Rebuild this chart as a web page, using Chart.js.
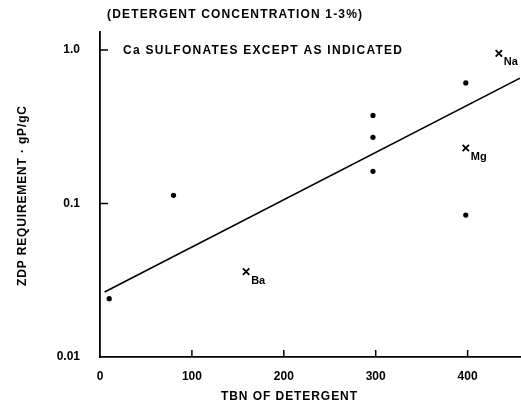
<!DOCTYPE html>
<html>
<head>
<meta charset="utf-8">
<script src="https://cdn.jsdelivr.net/npm/chart.js@4/dist/chart.umd.min.js"></script>
<style>
html,body{margin:0;padding:0;background:#fff;}
canvas{display:block;}
</style>
</head>
<body>
<canvas id="c" width="521" height="408"></canvas>
<script>
// ---- data ----
const dotTBN = [10, 80, 297, 297, 297, 398, 398];
const dotZDP = [0.024, 0.113, 0.375, 0.27, 0.162, 0.61, 0.084];
const markerTBN = [434, 398, 159];
const markerZDP = [0.95, 0.23, 0.036];
const markerLabels = ['Na', 'Mg', 'Ba'];
const fitTBN = [5, 457];
const fitZDP = [0.0265, 0.655];
const xTicks = [0, 100, 200, 300, 400];
const yTicks = [0.01, 0.1, 1.0];
const yTickLabels = ['0.01', '0.1', '1.0'];
const titleText = '(DETERGENT CONCENTRATION 1-3%)';
const noteText = 'Ca SULFONATES EXCEPT AS INDICATED';
const xTitle = 'TBN OF DETERGENT';
const yTitle = 'ZDP REQUIREMENT \u00B7 gP/gC';

const FONT = '"Liberation Sans", Arial, sans-serif';

function fitText(ctx, text, x, y, width, font, align) {
  ctx.font = font;
  const w = ctx.measureText(text).width;
  const sp = (width - w) / (text.length - 1);
  ctx.letterSpacing = sp + 'px';
  ctx.textAlign = 'left';
  let sx = x;
  if (align === 'center') sx = x - width / 2;
  ctx.fillText(text, sx, y);
  ctx.letterSpacing = '0px';
}

const decor = {
  id: 'decor',
  afterDraw(chart) {
    const ctx = chart.ctx;
    const xs = chart.scales.x, ys = chart.scales.y;
    const ca = chart.chartArea;
    ctx.save();
    ctx.strokeStyle = '#000';
    ctx.lineWidth = 1.5;
    // inward ticks
    xTicks.forEach(v => {
      if (v === 0) return;
      const px = xs.getPixelForValue(v);
      ctx.beginPath(); ctx.moveTo(px, ca.bottom); ctx.lineTo(px, ca.bottom - 7); ctx.stroke();
    });
    yTicks.forEach(v => {
      if (v === yTicks[0]) return;
      const py = ys.getPixelForValue(v);
      ctx.beginPath(); ctx.moveTo(ca.left, py); ctx.lineTo(ca.left + 8, py); ctx.stroke();
    });
    ctx.fillStyle = '#000';
    ctx.textBaseline = 'middle';
    // titles
    fitText(ctx, titleText, 107, 15, 255, 'bold 12px ' + FONT);
    fitText(ctx, noteText, 123, 51, 279, 'bold 12px ' + FONT);
    fitText(ctx, xTitle, 289, 397, 136, 'bold 12px ' + FONT, 'center');
    ctx.save();
    ctx.translate(23, 196);
    ctx.rotate(-Math.PI / 2);
    fitText(ctx, yTitle, 0, 0, 180, 'bold 12px ' + FONT, 'center');
    ctx.restore();
    // subscript labels for X markers
    markerLabels.forEach((lab, i) => {
      const px = xs.getPixelForValue(markerTBN[i]);
      const py = ys.getPixelForValue(markerZDP[i]);
      ctx.font = 'bold 11px ' + FONT;
      ctx.textAlign = 'left';
      ctx.fillText(lab, px + 5, py + 9);
    });
    ctx.restore();
  }
};

new Chart(document.getElementById('c'), {
  type: 'scatter',
  data: {
    datasets: [
      {
        label: 'fit',
        type: 'line',
        data: fitTBN.map((x, i) => ({x, y: fitZDP[i]})),
        borderColor: '#000',
        borderWidth: 1.6,
        pointRadius: 0,
        fill: false,
        tension: 0
      },
      {
        label: 'Ca sulfonates',
        data: dotTBN.map((x, i) => ({x, y: dotZDP[i]})),
        backgroundColor: '#000',
        borderColor: '#000',
        pointRadius: 2.6,
        pointBorderWidth: 0
      },
      {
        label: 'other',
        data: markerTBN.map((x, i) => ({x, y: markerZDP[i]})),
        pointStyle: 'crossRot',
        pointRadius: 4.5,
        borderColor: '#000',
        pointBorderWidth: 1.8
      }
    ]
  },
  options: {
    responsive: false,
    devicePixelRatio: 1,
    animation: false,
    layout: {autoPadding: false, padding: {top: 32, right: 1, left: 0, bottom: 0}},
    plugins: {legend: {display: false}, tooltip: {enabled: false}},
    scales: {
      x: {
        type: 'linear',
        min: 0,
        max: 457,
        afterBuildTicks(s) { s.ticks = xTicks.map(v => ({value: v})); },
        afterFit(s) { s.height = 51; s.paddingRight = 0; s.paddingLeft = 0; },
        grid: {display: true, drawOnChartArea: false, drawTicks: false},
        border: {display: true, color: '#000', width: 1.8},
        ticks: {
          color: '#000',
          padding: 12,
          maxRotation: 0,
          font: {family: FONT, size: 12, weight: 'bold'},
          callback: v => String(v)
        }
      },
      y: {
        type: 'logarithmic',
        min: 0.01,
        max: 1.31,
        afterBuildTicks(s) { s.ticks = yTicks.map(v => ({value: v})); },
        afterFit(s) { s.width = 100; s.paddingTop = 0; s.paddingBottom = 0; },
        grid: {display: true, drawOnChartArea: false, drawTicks: false},
        border: {display: true, color: '#000', width: 1.8},
        ticks: {
          color: '#000',
          padding: 20,
          font: {family: FONT, size: 12, weight: 'bold'},
          callback: (v) => { const i = yTicks.indexOf(v); return i >= 0 ? yTickLabels[i] : ''; }
        }
      }
    }
  },
  plugins: [decor]
});
</script>
</body>
</html>
